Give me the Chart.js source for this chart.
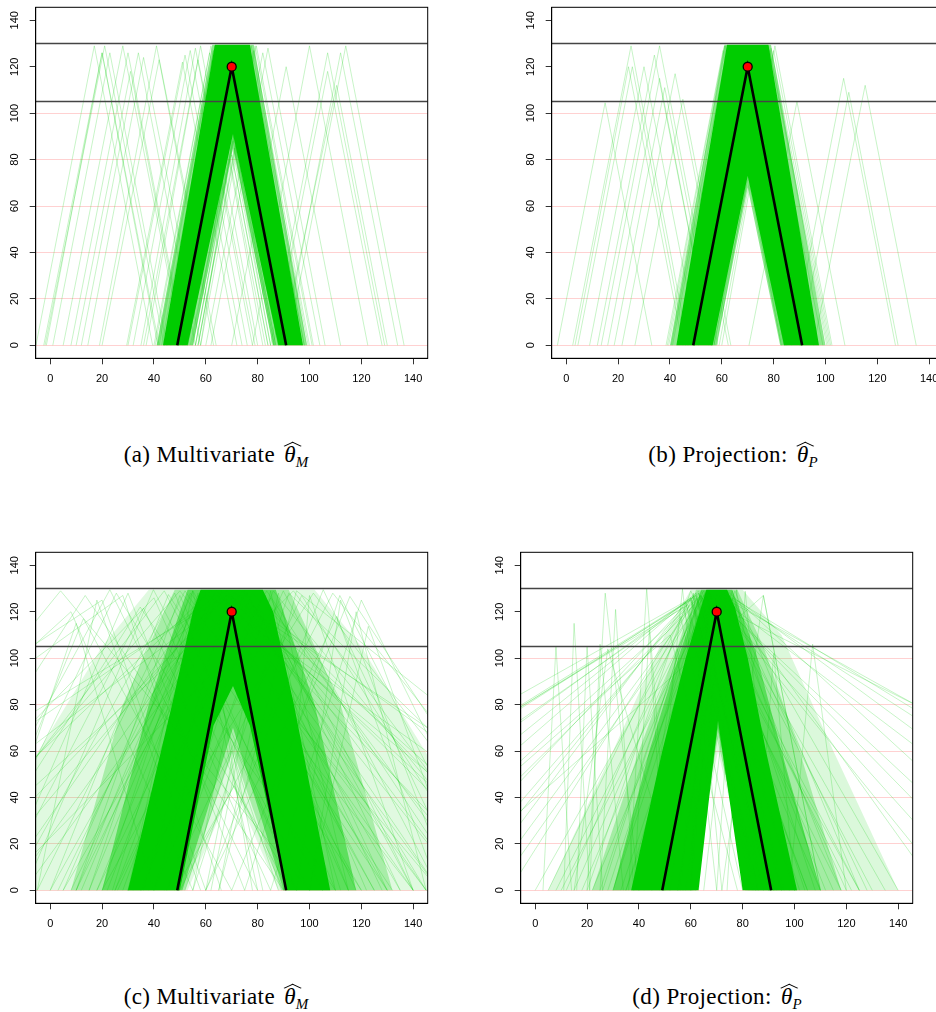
<!DOCTYPE html>
<html>
<head>
<meta charset="utf-8">
<script src="https://cdn.jsdelivr.net/npm/chart.js@4.4.1/dist/chart.umd.min.js"></script>
<style>
  html, body { margin: 0; padding: 0; background: #fff; width: 936px; height: 1012px; overflow: hidden; position: relative; }
  canvas { position: absolute; }
  .cap { position: absolute; font-family: "Liberation Serif", "DejaVu Serif", serif; font-size: 23px; color: #000;
         white-space: nowrap; transform: translateX(-50%); line-height: 26px; letter-spacing: 0.4px; }
  .th { position: relative; display: inline-block; margin-left: 3px; }
  .th i { font-style: italic; }
  .hat { position: absolute; left: 4px; top: 0px; width: 7px; height: 7px; border-left: 1px solid #000; border-top: 1px solid #000;
         transform: scale(1.6, 0.75) rotate(45deg); }
  .cap sub { font-size: 15px; font-style: italic; vertical-align: -5px; letter-spacing: 0; }
</style>
</head>
<body>
<canvas id="pa" width="440" height="400" style="left:0px;top:0px"></canvas>
<canvas id="pb" width="440" height="400" style="left:516px;top:0px"></canvas>
<canvas id="pc" width="440" height="400" style="left:0px;top:545px"></canvas>
<canvas id="pd" width="440" height="400" style="left:485px;top:545px"></canvas>
<div class="cap" style="left:216px;top:442px">(a) Multivariate <span class="th"><i>θ</i><span class="hat"></span></span><sub>M</sub></div>
<div class="cap" style="left:733px;top:442px">(b) Projection: <span class="th"><i>θ</i><span class="hat"></span></span><sub>P</sub></div>
<div class="cap" style="left:216px;top:984px">(c) Multivariate <span class="th"><i>θ</i><span class="hat"></span></span><sub>M</sub></div>
<div class="cap" style="left:717px;top:984px">(d) Projection: <span class="th"><i>θ</i><span class="hat"></span></span><sub>P</sub></div>
<script>
// axes
const xTicks = [0, 20, 40, 60, 80, 100, 120, 140];
const yTicks = [0, 20, 40, 60, 80, 100, 120, 140];
const redLevels = [0, 20, 40, 60, 80, 100];
const blackLevels = [130, 105];
const axisMin = -5.6, axisMax = 145.6;

// true triangle and its peak
const truthX = [49, 70, 91];
const truthY = [0, 120, 0];

// outlines of the dense regions (solid core, then softer halos)
const coreAX = [43.5, 63.5, 77, 97.5, 88, 70.5, 53];
const coreAY = [0, 129.5, 129.5, 0, 0, 91, 0];
const haloAX = [41, 62.5, 78.5, 99, 86, 70.5, 55];
const haloAY = [0, 129.5, 129.5, 0, 0, 85, 0];
const coreBX = [42.5, 62, 78, 97.5, 84, 70, 56.5];
const coreBY = [0, 129.5, 129.5, 0, 0, 73, 0];
const haloBX = [40, 61, 79, 100, 82.5, 70, 58];
const haloBY = [0, 129.5, 129.5, 0, 0, 68, 0];
const coreCX = [30, 47, 55, 58, 82, 86, 94, 108, 91, 77, 70.5, 63, 50];
const coreCY = [0, 80, 120, 129.5, 129.5, 120, 80, 0, 0, 71, 88, 71, 0];
const midCX = [20, 38, 50, 53, 87, 90, 102, 118, 90, 70.5, 51];
const midCY = [0, 80, 120, 129.5, 129.5, 120, 80, 0, 0, 70, 0];
const haloCX = [8, 28, 42, 48, 92, 98, 112, 132, 89, 70.5, 52];
const haloCY = [0, 80, 115, 129.5, 129.5, 115, 80, 0, 0, 60, 0];
const outerCX = [-10, -10, 20, 38, 102, 120, 150, 150, 88, 70.5, 53];
const outerCY = [0, 50, 105, 129.5, 129.5, 105, 50, 0, 0, 45, 0];
const coreDX = [37, 41, 49, 58, 64, 66, 74, 77, 82, 89, 97, 101, 80, 70.5, 63];
const coreDY = [0, 20, 60, 100, 122, 129.5, 129.5, 122, 100, 60, 20, 0, 0, 73, 0];
const midDX = [30, 44, 56, 64, 76, 85, 95, 110, 81, 70.5, 62];
const midDY = [0, 60, 103, 129.5, 129.5, 103, 60, 0, 0, 70, 0];
const haloDX = [22, 40, 55, 62, 78, 88, 102, 118, 82, 70.5, 61];
const haloDY = [0, 60, 105, 129.5, 129.5, 105, 60, 0, 0, 66, 0];
const outerDX = [5, 30, 50, 60, 80, 95, 115, 140, 83, 70.5, 60];
const outerDY = [0, 60, 110, 129.5, 129.5, 110, 60, 0, 0, 60, 0];

// single estimates: [left foot, peak x, peak y, right foot]
const linesA = [
  [-5.5, 17, 129, 39.5], [-2, 21, 129, 44], [-2.5, 20, 126, 42], [-1.5, 20, 126, 41.5],
  [1, 23, 126, 45], [5, 28, 129, 51], [10, 31, 118, 51.5], [12, 34, 126, 56],
  [8, 30, 126, 52], [14.5, 36, 124, 58], [19, 41, 129, 64], [20, 42, 123, 63],
  [29.5, 51, 122, 72], [30, 52, 125, 74], [32, 54, 127, 76], [35, 56, 128, 78],
  [36, 57, 123, 79], [37, 58, 129, 80], [57, 79, 129, 101], [60, 82, 126, 104],
  [62, 84, 128, 106], [70, 91, 120, 112], [78, 100, 129, 122.5], [85, 107, 126, 129],
  [86, 107, 118, 128], [90, 112, 126, 134], [91.5, 114, 129, 136.5], [89, 110.5, 112, 130],
  [40, 61.5, 126, 83], [40.5, 62, 129, 84], [41.5, 63, 127, 85], [42, 63.5, 129, 86],
  [43, 64, 128, 86.5], [55, 76, 128, 98], [56, 77.5, 129, 99.5], [57, 78.5, 127, 100],
  [58, 79.5, 129, 101.5], [53, 75, 129, 97], [54.5, 76, 127, 98], [56, 77, 128, 99],
  [44, 64, 129, 86.5], [45, 65, 127, 87], [46.5, 66, 128, 88], [53, 70, 95, 87],
  [55, 70.5, 88, 86], [54, 71, 92, 88], [56, 70, 82, 84], [57, 71, 85, 85], [58, 69, 80, 82]
];
const linesB = [
  [-3.4, 15, 104.5, 33], [2.5, 25, 129, 47], [3.4, 24, 120, 45], [4.5, 25.5, 120, 46],
  [12, 34, 125, 56], [13.5, 36, 129, 58.5], [18.5, 38, 111, 57.5], [21.5, 42, 117, 62.5],
  [26.5, 45, 106, 63.5], [16, 36, 115, 56], [9, 30, 120, 51], [70.5, 89, 105, 107.5],
  [87, 107, 115, 127], [90, 109, 109, 128], [95.5, 115.3, 112, 135], [39.5, 61.5, 129, 84],
  [40.5, 62, 127, 84.5], [41, 63, 128, 85], [56.5, 78, 129, 100.5], [57, 78.5, 127, 101],
  [58, 79, 128, 101.5], [56, 70, 78, 84], [57, 70.5, 74, 83], [38.5, 60.5, 127, 83],
  [39, 61, 129, 83.5], [59, 80, 127, 102], [60, 80.5, 129, 102.5], [55, 76, 128, 99]
];
const linesC = [
  [-90, 4, 129, 100], [-60, 13.5, 127, 90], [-40, 23, 129.5, 80], [-30, 25.5, 128, 95],
  [-20, 30, 128, 75], [-35, 34.7, 122, 110], [-10, 39.8, 129.5, 100], [0, 45.6, 127.4, 120],
  [-50, 50, 129, 140], [20, 83.5, 129, 160], [40, 89.9, 129, 150], [-20, 93.8, 129, 180],
  [45, 97, 127, 170], [30, 101.5, 128, 190], [60, 105.3, 129.5, 160], [50, 109, 128, 200],
  [75, 111.7, 127, 170], [70, 115.6, 126.6, 190], [100, 122.7, 113.7, 160], [60, 110.5, 118, 150],
  [-30, 12.8, 117, 70], [-20, 36, 121.6, 85], [-60, 62, 129, 200], [-100, 66, 128, 150],
  [-40, 70, 129, 230], [-80, 72, 129, 170], [-20, 60, 128, 220], [-120, 68, 127, 190],
  [10, 66, 129, 240], [-10, 74, 129, 160], [20, 58, 129, 145], [-50, 76, 128, 130],
  [5, 55, 129, 120], [12, 60, 128, 125], [15, 62, 129, 110], [18, 64, 127, 130],
  [22, 66, 129, 118], [25, 68, 128, 135], [28, 70, 129, 115], [32, 72, 129, 122],
  [35, 74, 128, 128], [38, 76, 129, 112], [3, 58, 127, 105], [8, 63, 129, 115],
  [26, 78, 129, 140], [44, 80, 128, 135], [30, 85, 126, 140], [30, 55, 129, 80],
  [35, 57, 128, 82], [40, 60, 126, 78], [62, 85, 129, 110], [60, 83, 127, 105],
  [65, 88, 128, 115], [52, 70, 60, 88], [55, 68, 70, 95], [48, 71, 45, 92],
  [-150, 20, 125, 60], [-130, 28, 127, 66], [-110, 8, 120, 55], [-5, 18, 125, 58],
  [-25, 10, 115, 40], [-70, 40, 126, 90], [-45, 44, 129, 105], [-15, 48, 128, 95],
  [10, 50, 127, 100], [-5, 52, 129, 130], [15, 54, 128, 150], [100, 118, 120, 145],
  [85, 120, 125, 175], [90, 100, 127, 140], [95, 112, 125, 155], [65, 95, 129, 240],
  [55, 92, 128, 210], [45, 86, 129, 180], [35, 82, 127, 165], [25, 78, 128, 190],
  [0, 64, 129, 175], [-30, 66, 127, 145], [5, 71, 128, 200], [-15, 68, 129, 185],
  [18, 73, 127, 150], [24, 60, 128, 140], [30, 63, 129, 125], [10, 57, 127, 132],
  [40, 75, 129, 145], [36, 69, 128, 160]
];
const linesD = [
  [3, 8, 105, 14], [11, 15, 115, 21], [16, 20, 105, 26], [20, 27, 128, 40],
  [25, 31, 121, 38], [21, 25, 106, 34], [36, 43, 130, 52], [38, 44, 112, 50],
  [45, 56.8, 129.8, 70], [50, 61, 128, 72], [70, 77.7, 129.5, 90], [74, 81, 128.8, 92],
  [72, 88, 127, 110], [98, 107, 106, 120], [-118, 60, 125, 85], [-115, 61, 126, 86],
  [-120, 58, 124, 84], [-122, 59, 123, 86], [-80, 62, 128, 90], [-60, 64, 127, 92],
  [-50, 66, 128, 95], [-100, 57, 122, 88], [-30, 60, 125, 95], [-20, 65, 129, 100],
  [-10, 62, 127, 105], [55, 72, 128, 250], [60, 70, 127, 220], [58, 74, 129, 200],
  [62, 76, 126, 260], [50, 68, 128, 180], [65, 78, 125, 230], [56, 66, 129, 170],
  [60, 64, 126, 290], [-40, 88, 127, 110], [20, 60, 129, 110], [25, 63, 128, 105],
  [28, 66, 129, 112], [15, 64, 127, 115], [30, 68, 129, 120], [22, 70, 128, 108],
  [33, 72, 129, 118], [26, 62, 126, 125], [18, 67, 128, 100], [35, 74, 127, 128],
  [40, 76, 129, 110], [12, 61, 127, 118], [-140, 62, 127, 90], [-95, 63, 128, 88],
  [-70, 60, 126, 93], [-45, 63, 129, 100], [-25, 58, 124, 92], [-15, 66, 128, 96],
  [0, 64, 127, 102], [5, 60, 126, 98], [8, 66, 129, 104], [10, 69, 128, 95],
  [57, 75, 127, 140], [55, 73, 128, 155], [45, 71, 126, 130], [48, 77, 129, 125],
  [52, 68, 127, 160], [35, 70, 128, 135], [42, 66, 126, 125], [30, 64, 129, 122],
  [60, 67, 128, 190], [63, 71, 127, 275], [-35, 56, 118, 80], [-60, 52, 110, 78],
  [15, 28, 104, 55], [40, 55, 104, 62], [85, 92, 102, 100]
];

const GREEN_LINE = 'rgba(0,205,0,0.22)';
const GREEN_SOLID = 'rgb(0,204,0)';

function pts(xs, ys) {
  return xs.map((x, i) => ({ x: x, y: ys[i] }));
}

function polygon(xs, ys, color, order) {
  const p = pts(xs, ys);
  p.push(p[0]);
  return { data: p, showLine: true, fill: 'shape', backgroundColor: color, borderColor: 'transparent',
           borderWidth: 0, pointRadius: 0, order: order, clip: 0 };
}

function triangle(t) {
  return { data: [{ x: t[0], y: 0 }, { x: t[1], y: t[2] }, { x: t[3], y: 0 }], showLine: true, fill: false,
           borderColor: GREEN_LINE, borderWidth: 1, pointRadius: 0, order: 50, clip: 0 };
}

const rBox = {
  id: 'rBox',
  afterDraw(chart) {
    const { ctx, chartArea: a } = chart;
    const y = chart.scales.y;
    ctx.save();
    ctx.strokeStyle = '#000';
    ctx.lineWidth = 1;
    ctx.strokeRect(a.left, a.top, a.right - a.left, a.bottom - a.top);
    ctx.fillStyle = '#000';
    ctx.font = '11px "Liberation Sans", Arial, sans-serif';
    ctx.textAlign = 'center';
    ctx.textBaseline = 'middle';
    y.ticks.forEach(t => {
      ctx.save();
      ctx.translate(a.left - 20.5, y.getPixelForValue(t.value));
      ctx.rotate(-Math.PI / 2);
      ctx.fillText(String(t.value), 0, 0);
      ctx.restore();
    });
    ctx.restore();
  }
};

function panel(id, layers, lines) {
  const datasets = [];
  layers.forEach(l => datasets.push(l));
  lines.forEach(t => datasets.push(triangle(t)));
  blackLevels.forEach(h => datasets.push({
    data: [{ x: axisMin, y: h }, { x: axisMax, y: h }], showLine: true, fill: false,
    borderColor: '#444', borderWidth: 1.6, pointRadius: 0, order: 3, clip: 0
  }));
  datasets.push({ data: pts(truthX, truthY), showLine: true, fill: false, borderColor: '#000',
    borderWidth: 2.6, pointRadius: 0, order: 2, clip: 0 });
  datasets.push({ data: [{ x: truthX[1], y: truthY[1] }], showLine: false, pointRadius: 4.5,
    pointBackgroundColor: '#ff0000', pointBorderColor: '#000', pointBorderWidth: 1.3, order: 1, clip: false });

  new Chart(document.getElementById(id), {
    type: 'scatter',
    data: { datasets: datasets },
    options: {
      responsive: false,
      animation: false,
      events: [],
      layout: { autoPadding: false, padding: { left: 0, top: 7.3, right: 12.3, bottom: 11.7 } },
      plugins: { legend: { display: false }, tooltip: { enabled: false } },
      scales: {
        x: {
          type: 'linear', min: axisMin, max: axisMax,
          afterBuildTicks: s => { s.ticks = xTicks.map(v => ({ value: v })); },
          afterFit: s => { s.height = 30; },
          grid: { drawOnChartArea: false, tickLength: 6, tickColor: '#333' },
          border: { display: true, color: '#000', width: 1 },
          ticks: { color: '#000', padding: 8, maxRotation: 0, font: { family: '"Liberation Sans", Arial, sans-serif', size: 11 } }
        },
        y: {
          type: 'linear', min: axisMin, max: axisMax,
          afterBuildTicks: s => { s.ticks = yTicks.map(v => ({ value: v })); },
          afterFit: s => { s.width = 35.7; },
          grid: {
            drawOnChartArea: true, tickLength: 6, tickColor: '#333',
            color: c => redLevels.includes(c.tick && c.tick.value) ? 'rgba(255,0,0,0.18)' : 'rgba(0,0,0,0)'
          },
          border: { display: true, color: '#000', width: 1 },
          ticks: { display: false }
        }
      }
    },
    plugins: [rBox]
  });
}

panel('pa', [polygon(haloAX, haloAY, 'rgba(0,205,0,0.45)', 101), polygon(coreAX, coreAY, GREEN_SOLID, 100)], linesA);
panel('pb', [polygon(haloBX, haloBY, 'rgba(0,205,0,0.45)', 101), polygon(coreBX, coreBY, GREEN_SOLID, 100)], linesB);
panel('pc', [polygon(outerCX, outerCY, 'rgba(0,205,0,0.12)', 113), polygon(haloCX, haloCY, 'rgba(0,205,0,0.25)', 112),
             polygon(midCX, midCY, 'rgba(0,205,0,0.45)', 111), polygon(coreCX, coreCY, GREEN_SOLID, 100)], linesC);
panel('pd', [polygon(outerDX, outerDY, 'rgba(0,205,0,0.14)', 113), polygon(haloDX, haloDY, 'rgba(0,205,0,0.25)', 112),
             polygon(midDX, midDY, 'rgba(0,205,0,0.45)', 111), polygon(coreDX, coreDY, GREEN_SOLID, 100)], linesD);
</script>
</body>
</html>
